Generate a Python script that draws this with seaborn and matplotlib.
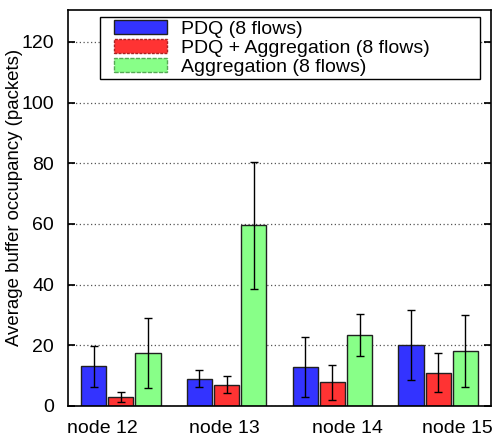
import numpy as np
import pandas as pd
import seaborn as sns
import matplotlib
matplotlib.use("Agg")
import matplotlib.pyplot as plt
from matplotlib.patches import Patch, Rectangle
from matplotlib.legend_handler import HandlerPatch

# data
nodes = ["node 12", "node 13", "node 14", "node 15"]
series = ["PDQ (8 flows)", "PDQ + Aggregation (8 flows)", "Aggregation (8 flows)"]
pdq = [13.0, 9.0, 12.8, 20.0]
pdq_err = [6.7, 2.9, 9.8, 11.5]
pdq_agg = [3.0, 7.0, 7.8, 11.0]
pdq_agg_err = [1.6, 2.8, 5.8, 6.5]
agg = [17.5, 59.5, 23.3, 18.1]
agg_err = [11.5, 21.0, 6.9, 11.8]

colors = ["#3333ff", "#ff3333", "#88ff88"]

df = pd.DataFrame({
    "node": nodes * 3,
    "series": [series[0]] * 4 + [series[1]] * 4 + [series[2]] * 4,
    "value": pdq + pdq_agg + agg,
})
errs = [pdq_err, pdq_agg_err, agg_err]

sns.set_theme(style="ticks")
plt.rcParams["font.family"] = ["Liberation Sans", "DejaVu Sans"]
plt.rcParams["text.color"] = "black"
plt.rcParams["axes.labelcolor"] = "black"
plt.rcParams["xtick.color"] = "black"
plt.rcParams["ytick.color"] = "black"

fig = plt.figure(figsize=(4.96, 4.36), dpi=100)
ax = fig.add_axes([0.137, 0.069, 0.853, 0.908])

sns.barplot(data=df, x="node", y="value", hue="series", hue_order=series,
            palette=colors, width=0.77, gap=0.075, errorbar=None,
            edgecolor="#202020", linewidth=1.0, saturation=1, ax=ax, legend=False)

# error bars on each bar
for cont, e in zip(ax.containers, errs):
    xs = [p.get_x() + p.get_width() / 2 for p in cont.patches]
    ys = [p.get_height() for p in cont.patches]
    ax.errorbar(xs, ys, yerr=e, fmt="none", ecolor="black", elinewidth=1.0,
                capsize=3, capthick=1.0, zorder=5)

ax.set_xlim(-0.5, 3.5)
ax.set_ylim(0, 130.5)
ax.set_yticks(range(0, 121, 20))
ax.set_xticks([-0.17, 0.98, 2.14, 3.18])
ax.set_xticklabels(nodes)
ax.set_xlabel("")
ax.set_ylabel("Average buffer occupancy (packets)", fontsize=13.4)
ax.yaxis.set_label_coords(-0.106, 0.526)
ax.tick_params(axis="x", length=0, labelsize=14, pad=10)
ax.tick_params(axis="y", direction="in", length=5, labelsize=14, right=True, pad=10)
for s in ax.spines.values():
    s.set_linewidth(1.2)
    s.set_color("black")
ax.yaxis.grid(True, linestyle=(0, (1, 2)), color="#555555", linewidth=0.9)
ax.set_axisbelow(True)


# legend swatch shifted right inside its slot, like the original
def shifted_box(legend, orig_handle, xdescent, ydescent, width, height, fontsize):
    off = 8
    return Rectangle((-xdescent + off, -ydescent), width - off, height)


handles = [Patch(facecolor=c, edgecolor="#202020", linewidth=1.0) for c in colors]
handles[1].set_edgecolor("#aa2222")
handles[1].set_linestyle((0, (2, 1)))
handles[2].set_edgecolor("#55aa55")
handles[2].set_linestyle((0, (3, 1)))
leg = ax.legend(handles, series, loc="upper left",
                bbox_to_anchor=(0.0757, 0.0, 0.898, 0.982), mode="expand",
                fontsize=14, frameon=True, fancybox=False, framealpha=1,
                edgecolor="black", handlelength=3.3, handleheight=0.75,
                labelspacing=0.05, borderpad=0.15, handletextpad=0.72,
                borderaxespad=0,
                handler_map={Patch: HandlerPatch(patch_func=shifted_box)})
leg.get_frame().set_linewidth(1.0)

fig.savefig("out.png", dpi=100)
